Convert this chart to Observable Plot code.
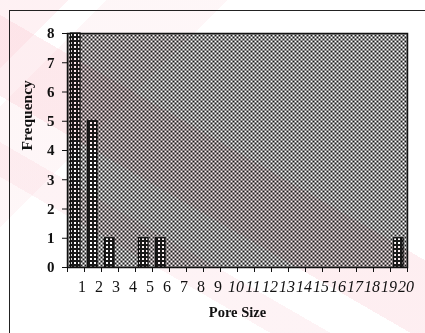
<!DOCTYPE html>
<html>
<head>
<meta charset="utf-8">
<script src="https://cdn.jsdelivr.net/npm/d3@7"></script>
<script src="https://cdn.jsdelivr.net/npm/@observablehq/plot@0.6"></script>
<style>
  html, body { margin: 0; padding: 0; background: #fff; }
  #wrap { position: relative; width: 425px; height: 333px; overflow: hidden; background: #fff; }
  #outer { position: absolute; left: 9px; top: 10px; width: 440px; height: 340px;
           border-top: 1.5px solid #222; border-left: 1.5px solid #222; }
  #chart { position: absolute; left: 0; top: 0; }
  #tint { position: absolute; left: 0; top: 0; width: 425px; height: 333px; pointer-events: none;
          mix-blend-mode: multiply;
          background:
            linear-gradient(30deg, transparent 0 27%, rgba(250,200,210,0.22) 27% 33%, transparent 33% 41%,
                            rgba(250,195,205,0.28) 41% 55%, transparent 55%),
            linear-gradient(135deg, rgba(252,215,222,0.35) 0 9%, transparent 9% 14%, rgba(252,220,226,0.25) 14% 30%, transparent 30%);
  }
</style>
</head>
<body>
<div id="wrap">
  <div id="outer"></div>
  <div id="chart"></div>
  <div id="tint"></div>
</div>
<script>
// ---- data ----
const poreSizes   = [1, 2, 3, 4, 5, 6, 7, 8, 9, 10, 11, 12, 13, 14, 15, 16, 17, 18, 19, 20];
const frequencies = [8, 5, 1, 0, 1, 1, 0, 0, 0, 0, 0, 0, 0, 0, 0, 0, 0, 0, 0, 1];
const yTicks      = [0, 1, 2, 3, 4, 5, 6, 7, 8];
const xTitle = "Pore Size";
const yTitle = "Frequency";

const data = poreSizes.map((s, i) => ({size: s, freq: frequencies[i]}));
const bars = data.filter(d => d.freq > 0);
const boundaries = [poreSizes[0] - 0.5, ...poreSizes.map(s => s + 0.5)];
const serif = '"Liberation Serif", "Times New Roman", Times, serif';

const chart = Plot.plot({
  width: 425,
  height: 333,
  marginLeft: 67,
  marginRight: 18,
  marginTop: 33,
  marginBottom: 66,
  style: {fontFamily: serif, fontSize: "15px", color: "#111", background: "transparent", overflow: "visible"},
  x: {domain: [poreSizes[0] - 0.5, poreSizes[poreSizes.length - 1] + 0.5], label: null},
  y: {domain: [0, 8], label: null},
  marks: [
    Plot.frame({fill: "url(#checker)", stroke: "#111", strokeWidth: 1.5}),
    Plot.rectY(bars, {x1: d => d.size - 0.5, x2: d => d.size + 0.5, y: "freq",
                      insetLeft: 3.5, insetRight: 4,
                      fill: "url(#hatch)", stroke: "#111", strokeWidth: 1.3}),
    Plot.axisY({ticks: yTicks, tickSize: 5, tickPadding: 8, tickFormat: d => String(d),
                fontWeight: "bold", fontSize: 15, label: null, stroke: "#111"}),
    Plot.axisX({ticks: boundaries, tickSize: 5, tickFormat: () => "", label: null, stroke: "#111"}),
    Plot.text(poreSizes.filter(s => s < 10), {x: d => d, text: d => String(d), frameAnchor: "bottom",
              dy: 24, dx: 6, fontSize: 16, fill: "#111"}),
    Plot.text(poreSizes.filter(s => s >= 10), {x: d => d, text: d => String(d), frameAnchor: "bottom",
              dy: 24, dx: 7, fontSize: 16, fontStyle: "italic", fill: "#111"}),
    Plot.text([xTitle], {frameAnchor: "bottom", dy: 49, fontSize: 14.5, fontWeight: "bold", fill: "#111"}),
    Plot.text([yTitle], {frameAnchor: "left", dx: -40, rotate: -90, fontSize: 15.5, fontWeight: "bold", fill: "#111"})
  ]
});

const svg = d3.select(chart);
const defs = svg.insert("defs", ":first-child");
const checker = defs.append("pattern").attr("id", "checker").attr("patternUnits", "userSpaceOnUse")
  .attr("width", 4).attr("height", 4);
checker.append("rect").attr("width", 4).attr("height", 4).attr("fill", "#fff");
checker.append("rect").attr("width", 2).attr("height", 2).attr("fill", "#1a1a1a");
checker.append("rect").attr("x", 2).attr("y", 2).attr("width", 2).attr("height", 2).attr("fill", "#1a1a1a");

const hatch = defs.append("pattern").attr("id", "hatch").attr("patternUnits", "userSpaceOnUse")
  .attr("width", 4).attr("height", 4);
hatch.append("rect").attr("width", 4).attr("height", 4).attr("fill", "#fff");
hatch.append("rect").attr("x", 0).attr("width", 2).attr("height", 4).attr("fill", "#1a1a1a");
hatch.append("rect").attr("x", 2).attr("y", 0).attr("width", 2).attr("height", 2).attr("fill", "#1a1a1a");

document.getElementById("chart").appendChild(chart);
</script>
</body>
</html>
